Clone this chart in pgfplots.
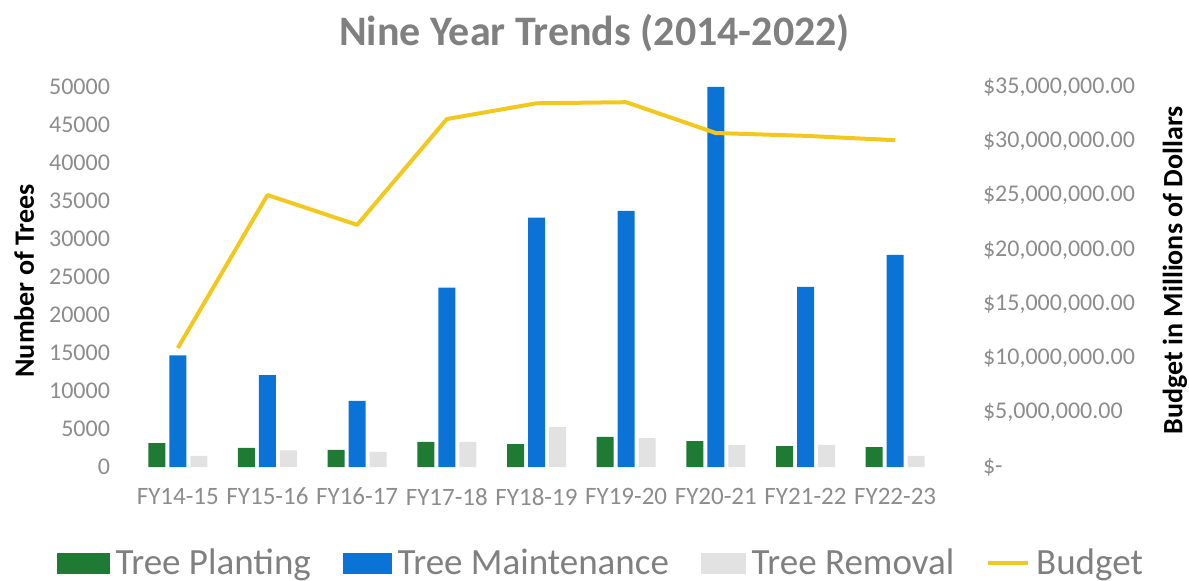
\documentclass[border=0pt]{standalone}
\usepackage{pgfplots}
\pgfplotsset{compat=1.18}
\usepackage{fontspec}
\setmainfont{Carlito}

\definecolor{plantgreen}{HTML}{1F7A33}
\definecolor{maintblue}{HTML}{0B73D6}
\definecolor{removegray}{HTML}{E2E2E2}
\definecolor{budgetyellow}{HTML}{F2C81E}
\definecolor{ticktext}{HTML}{8C8C8C}
\definecolor{titletext}{HTML}{808080}

\begin{document}
\begin{tikzpicture}
\useasboundingbox (-66.5bp,-57bp) rectangle (528bp,233.5bp);

% bars, left axis
\begin{axis}[
    scale only axis, width=403.5bp, height=190bp,
    xmin=-0.5, xmax=8.5, ymin=0, ymax=50000,
    axis line style={draw=none}, major tick length=0pt,
    ybar=2bp, bar width=8.5bp,
    xtick={0,...,8},
    xticklabels={FY14-15,FY15-16,FY16-17,FY17-18,FY18-19,FY19-20,FY20-21,FY21-22,FY22-23},
    xticklabel style={font=\fontsize{12.5bp}{14bp}\selectfont, text=ticktext, yshift=-7bp},
    ytick={0,5000,...,50000}, scaled y ticks=false,
    /pgf/number format/assume math mode=true,
    /pgf/number format/1000 sep={},
    yticklabel style={font=\fontsize{12bp}{14bp}\selectfont, text=ticktext, xshift=-8bp},
    ylabel={Number of Trees},
    ylabel style={font=\fontsize{14bp}{16bp}\selectfont\bfseries, at={(rel axis cs:-0.135,0.49)}, anchor=center},
    axis x line*=bottom, axis y line*=left,
    clip=false,
]
\addplot[fill=plantgreen, draw=none] coordinates {(0,3150) (1,2500) (2,2240) (3,3300) (4,3000) (5,3950) (6,3400) (7,2760) (8,2630)};
\addplot[fill=maintblue, draw=none] coordinates {(0,14700) (1,12100) (2,8700) (3,23600) (4,32800) (5,33700) (6,50000) (7,23700) (8,27900)};
\addplot[fill=removegray, draw=none] coordinates {(0,1450) (1,2200) (2,2000) (3,3300) (4,5250) (5,3800) (6,2900) (7,2900) (8,1450)};
\node[font=\fontsize{21bp}{24bp}\selectfont\bfseries, text=titletext] at (rel axis cs:0.572,1.142) {Nine Year Trends (2014-2022)};
\end{axis}

% budget line, right axis
\begin{axis}[
    scale only axis, width=403.5bp, height=190bp,
    xmin=-0.5, xmax=8.5, ymin=0, ymax=35000000,
    axis line style={draw=none}, major tick length=0pt,
    axis x line=none, axis y line*=right,
    scaled y ticks=false,
    ytick={0,5000000,10000000,15000000,20000000,25000000,30000000,35000000},
    yticklabels={{\$-},{\$5,000,000.00},{\$10,000,000.00},{\$15,000,000.00},{\$20,000,000.00},{\$25,000,000.00},{\$30,000,000.00},{\$35,000,000.00}},
    yticklabel style={font=\fontsize{12bp}{14bp}\selectfont, text=ticktext, xshift=18bp, anchor=west},
    ylabel={Budget in Millions of Dollars},
    ylabel style={font=\fontsize{14bp}{16bp}\selectfont\bfseries, at={(rel axis cs:1.291,0.518)}, anchor=center},
    legend columns=4,
    legend style={at={(rel axis cs:0.581,-0.253)}, anchor=center, draw=none, fill=none,
        font=\fontsize{18.5bp}{21bp}\selectfont, text=titletext,
        /tikz/every odd column/.append style={column sep=1bp},
        /tikz/every even column/.append style={column sep=14bp}},
    clip=false,
]
\addlegendimage{legend image code/.code={\fill[plantgreen] (0bp,-5bp) rectangle (26bp,5bp);}}
\addlegendentry{Tree Planting}
\addlegendimage{legend image code/.code={\fill[maintblue] (0bp,-5bp) rectangle (24bp,5bp);}}
\addlegendentry{Tree Maintenance}
\addlegendimage{legend image code/.code={\fill[removegray] (0bp,-5bp) rectangle (22bp,5bp);}}
\addlegendentry{Tree Removal}
\addplot[budgetyellow, line width=2bp, line join=round, mark=none,
    legend image code/.code={\draw[budgetyellow, line width=2bp] (0bp,0bp) -- (20bp,0bp);}]
    coordinates {(0,10960000) (1,25050000) (2,22300000) (3,32050000) (4,33500000) (5,33600000) (6,30760000) (7,30500000) (8,30100000)};
\addlegendentry{Budget}
\end{axis}
\end{tikzpicture}
\end{document}
